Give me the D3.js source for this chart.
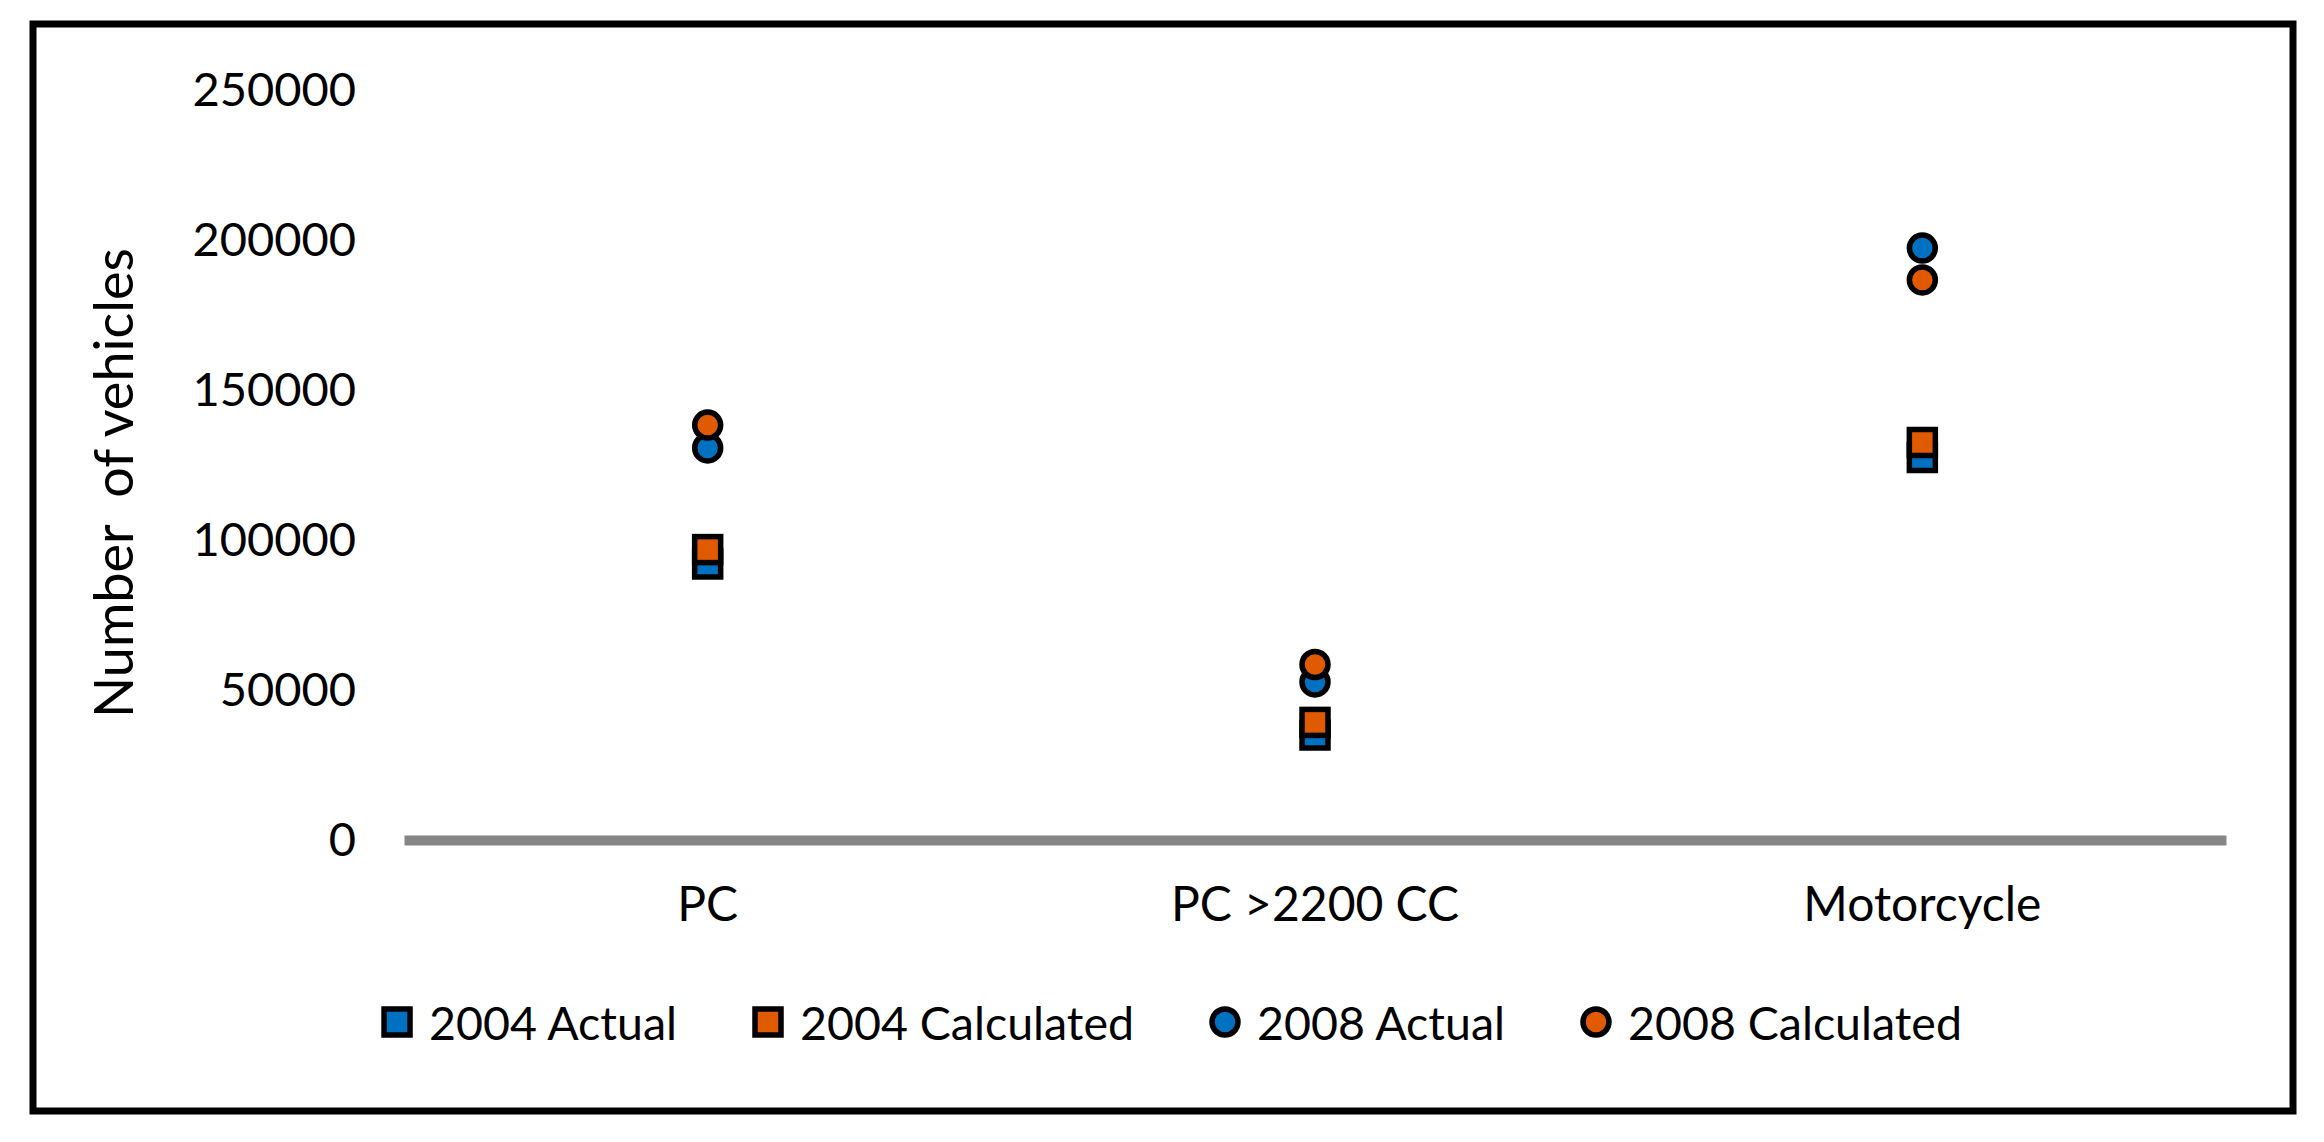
<!DOCTYPE html>
<html lang="en">
<head>
    <meta charset="utf-8">
    <title>Number of vehicles</title>
    <script type="text/javascript" src="https://cdn.jsdelivr.net/npm/d3@7"></script>
    <style>
        body { margin: 0; background: #fff; }
        text { font-family: Lato, "Open Sans", sans-serif; fill: #000; }
    </style>
</head>
<body>
<script type="text/javascript">
    // chart data
    var categories = ["PC", "PC >2200 CC", "Motorcycle"];
    var seriesNames = ["2004 Actual", "2004 Calculated", "2008 Actual", "2008 Calculated"];
    var actual2004 = [92000, 35000, 127500];
    var calculated2004 = [96800, 39200, 132500];
    var actual2008 = [130700, 52700, 197300];
    var calculated2008 = [138300, 58500, 186700];
    var yTicks = [0, 50000, 100000, 150000, 200000, 250000];

    var w = 2324, h = 1142;
    var blue = "#0070C0", orange = "#E05A00";

    var series = [
        {name: seriesNames[0], values: actual2004, color: blue, shape: "square"},
        {name: seriesNames[1], values: calculated2004, color: orange, shape: "square"},
        {name: seriesNames[2], values: actual2008, color: blue, shape: "circle"},
        {name: seriesNames[3], values: calculated2008, color: orange, shape: "circle"}
    ];

    var svg = d3.select("body").append("svg")
        .attr("width", w).attr("height", h);

    // outer frame
    svg.append("rect")
        .attr("x", 33).attr("y", 24)
        .attr("width", 2260).attr("height", 1087)
        .attr("fill", "none").attr("stroke", "#000").attr("stroke-width", 7);

    var x = d3.scaleBand().domain(categories).range([404, 2226]);
    var y = d3.scaleLinear().domain([0, 250000]).range([840, 90]);

    // y axis labels
    var yAxis = svg.append("g")
        .attr("transform", "translate(404,0)")
        .call(d3.axisLeft(y).tickValues(yTicks).tickSize(0).tickPadding(48).tickFormat(d3.format("d")));
    yAxis.select(".domain").remove();
    yAxis.selectAll("text").style("font-size", "47px").style("font-family", "Lato");

    // x axis (grey baseline)
    var xAxis = svg.append("g")
        .attr("transform", "translate(0,840)")
        .call(d3.axisBottom(x).tickSize(0).tickSizeOuter(0).tickPadding(47));
    xAxis.select(".domain").attr("stroke", "#868686").attr("stroke-width", 10);
    xAxis.selectAll("text").style("font-size", "48px").style("font-family", "Lato");

    // y title
    svg.append("text")
        .attr("transform", "translate(112,483) rotate(-90)")
        .attr("text-anchor", "middle")
        .attr("dominant-baseline", "central")
        .style("font-size", "54px")
        .style("white-space", "pre")
        .text("Number  of vehicles");

    function drawMarker(g, shape, color, cx, cy) {
        if (shape == "square") {
            g.append("rect")
                .attr("x", cx - 13).attr("y", cy - 13)
                .attr("width", 26).attr("height", 26)
                .attr("fill", color).attr("stroke", "#000").attr("stroke-width", 5.5);
        } else {
            g.append("ellipse")
                .attr("cx", cx).attr("cy", cy)
                .attr("rx", 13).attr("ry", 13)
                .attr("fill", color).attr("stroke", "#000").attr("stroke-width", 5.5);
        }
    }

    // points
    var marks = svg.append("g");
    series.forEach(function(s) {
        s.values.forEach(function(v, i) {
            drawMarker(marks, s.shape, s.color, x(categories[i]) + x.bandwidth() / 2, y(v));
        });
    });

    // legend
    var legend = svg.append("g");
    var lx = 0;
    series.forEach(function(s, i) {
        var item = legend.append("g");
        drawMarker(item, s.shape, s.color, lx + 15, 1022);
        var t = item.append("text")
            .attr("x", lx + 47).attr("y", 1022)
            .attr("dominant-baseline", "central")
            .style("font-size", "46.5px")
            .text(s.name);
        lx = lx + 47 + t.node().getComputedTextLength() + 76;
    });
    var legendWidth = lx - 76;
    legend.attr("transform", "translate(" + (1172 - legendWidth / 2) + ",0)");
</script>
</body>
</html>
